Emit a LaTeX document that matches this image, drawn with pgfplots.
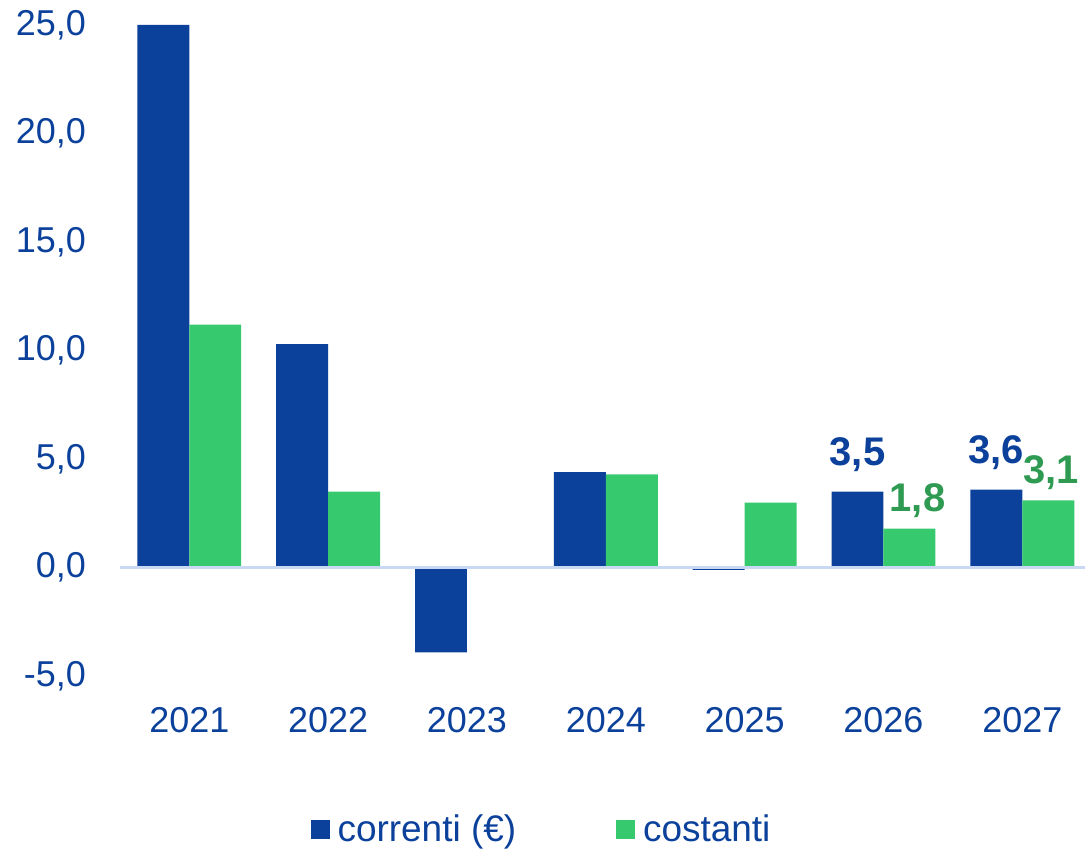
\documentclass[border=0pt]{standalone}
\usepackage{pgfplots}
\pgfplotsset{compat=1.18}
\usepackage{fontspec}
\setmainfont{Liberation Sans}
\definecolor{cblue}{HTML}{0B419B}
\definecolor{cgreen}{HTML}{36C96E}
\definecolor{lgreen}{HTML}{2E9A52}
\definecolor{zl}{HTML}{C9D9F5}
\pgfkeys{/pgf/number format/.cd, fixed, fixed zerofill, precision=1, use comma, assume math mode=true}
\begin{document}
\begin{tikzpicture}
\begin{axis}[
  name=ax,
  width=483pt, height=326pt, scale only axis,
  xmin=-0.5, xmax=6.45, ymin=-5, ymax=25,
  ybar, bar width=26pt,
  axis line style={draw=none}, tick style={draw=none},
  xtick={0,...,6}, xticklabels={2021,2022,2023,2024,2025,2026,2027},
  ytick={-5,0,5,10,15,20,25},
  ticklabel style={font=\fontsize{18}{22}\selectfont, text=cblue},
  yticklabel style={xshift=-13.5pt},
  xticklabel style={yshift=-8pt},
  legend style={at={(0.438,-0.235)}, anchor=center, draw=none, fill=none,
    font=\fontsize{18.5}{22}\selectfont, text=cblue, legend columns=2,
    /tikz/every even column/.append style={column sep=48pt},
    /tikz/every odd column/.append style={column sep=2pt}},
  legend image code/.code={\fill[#1] (0pt,-4.75pt) rectangle (9.5pt,4.75pt);},
  clip=false,
]
\addplot[fill=cblue, draw=none, bar shift=-13pt] coordinates {(0,25.0) (1,10.3) (2,-3.9) (3,4.4) (4,-0.1) (5,3.5) (6,3.6)};
\addlegendentry{correnti (€)}
\addplot[fill=cgreen, draw=none, bar shift=13pt] coordinates {(0,11.2) (1,3.5) (2,0.0) (3,4.3) (4,3.0) (5,1.8) (6,3.1)};
\addlegendentry{costanti}
\addplot[draw=none, fill=none, bar shift=-13pt, forget plot,
  nodes near coords, point meta=y,
  nodes near coords style={font=\fontsize{20}{24}\selectfont\bfseries, text=cblue, anchor=south, yshift=6.5pt}]
  coordinates {(5,3.5) (6,3.6)};
\addplot[draw=none, fill=none, bar shift=13pt, forget plot,
  nodes near coords, point meta=y,
  nodes near coords style={font=\fontsize{20}{24}\selectfont\bfseries, text=lgreen, anchor=south, xshift=4pt, yshift=2pt}]
  coordinates {(5,1.8)};
\addplot[draw=none, fill=none, bar shift=13pt, forget plot,
  nodes near coords, point meta=y,
  nodes near coords style={font=\fontsize{20}{24}\selectfont\bfseries, text=lgreen, anchor=south, xshift=1.5pt, yshift=2pt}]
  coordinates {(6,3.1)};
\draw[zl, line width=1.2pt] (axis cs:-0.5,0) -- (axis cs:6.45,0);
\end{axis}
\path (ax.south west) ++(-60pt,0pt) coordinate (bbl);
\path (ax.north west) ++(-60pt,12.5pt);
\path (ax.south west) ++(0pt,-85.5pt);
\end{tikzpicture}
\end{document}
